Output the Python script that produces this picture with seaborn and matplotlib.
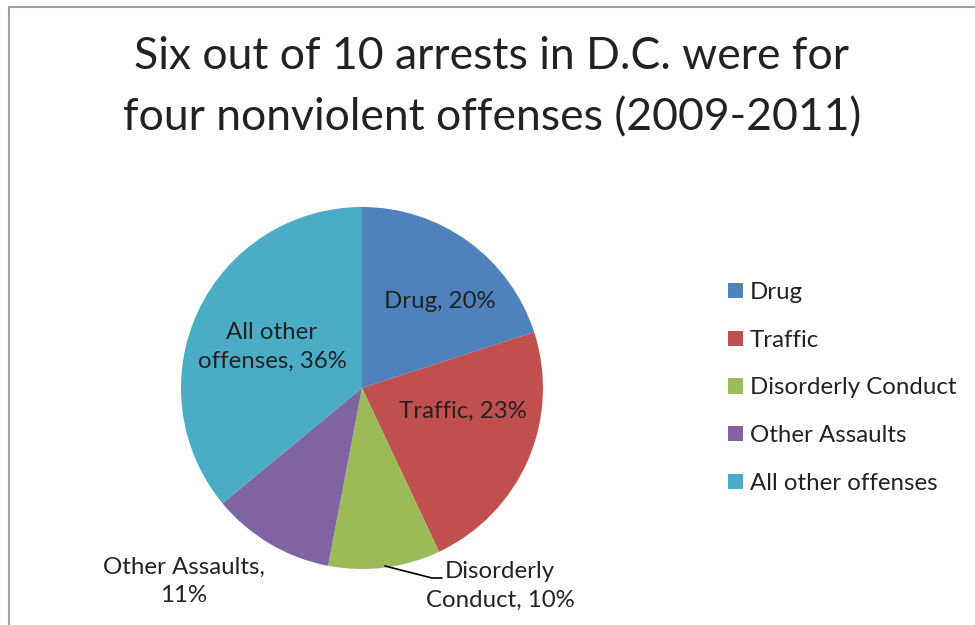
import matplotlib
matplotlib.use("Agg")
import matplotlib.pyplot as plt
import seaborn as sns
from matplotlib.patches import Rectangle
from matplotlib.lines import Line2D

categories = ["Drug", "Traffic", "Disorderly Conduct", "Other Assaults", "All other offenses"]
values = [20, 23, 10, 11, 36]
slice_labels = ["Drug, 20%", "Traffic, 23%", "Disorderly\nConduct, 10%", "Other Assaults,\n11%", "All other\noffenses, 36%"]
colors = ["#4F81BD", "#C0504D", "#9BBB59", "#8064A2", "#4BACC6"]
title = "Six out of 10 arrests in D.C. were for\nfour nonviolent offenses (2009-2011)"

sns.set_theme(style="white")
plt.rcParams["font.family"] = ["Lato", "DejaVu Sans"]
palette = sns.color_palette(colors)

W, H = 975, 625
fig = plt.figure(figsize=(W / 100, H / 100), dpi=100)
ax = fig.add_axes([0, 0, 1, 1])

cx, cy, r = 362, H - 388, 181
wedges, _ = ax.pie(values, colors=palette, startangle=90, counterclock=False,
                   center=(cx, cy), radius=r, frame=True,
                   wedgeprops=dict(linewidth=0))
ax.set_xlim(0, W)
ax.set_ylim(0, H)
ax.set_aspect("equal")
ax.axis("off")

txtc = "#222222"
fs = 17.3
label_pos = [(440, 302), (463, 411), (500, 586), (184, 581), (272, 347)]
for lab, (x, y) in zip(slice_labels, label_pos):
    ax.text(x, H - y, lab, ha="center", va="center", fontsize=fs, color=txtc, linespacing=1.43)

# leader line for Disorderly Conduct
ax.add_line(Line2D([385, 432, 442], [H - 566, H - 578, H - 578], color="black", lw=1.2))

# border
ax.add_line(Line2D([8.5, 8.5, W], [0, H - 6.5, H - 6.5], color="#A0A0A0", lw=1.5))

ax.text(492, H - 87, title, ha="center", va="center", fontsize=32, color=txtc, linespacing=1.6)

# legend
handles = [Rectangle((0, 0), 1, 1, facecolor=c, edgecolor="none") for c in palette]
leg = ax.legend(handles, categories, loc="center left", bbox_to_anchor=(728 / W, 1 - 388 / H),
                frameon=False, fontsize=fs, handlelength=0.62, handleheight=0.62,
                handletextpad=0.3, labelspacing=1.11, borderaxespad=0, borderpad=0)
for t in leg.get_texts():
    t.set_color(txtc)

fig.savefig("out.png", dpi=100)
